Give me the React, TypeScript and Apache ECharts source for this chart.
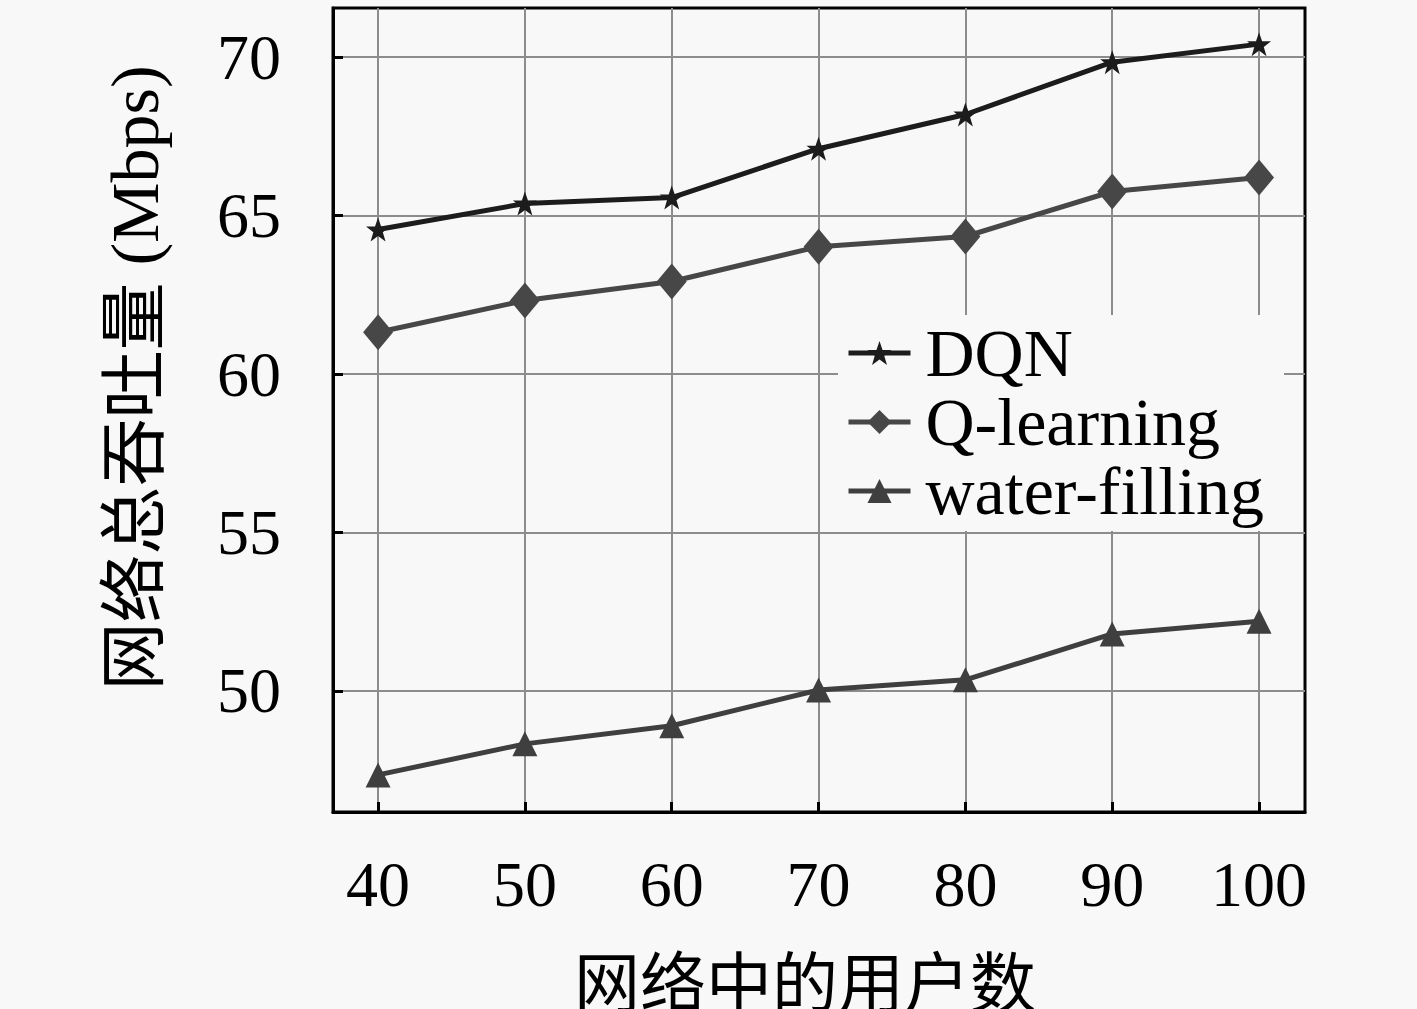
import React, { useEffect, useRef } from "react";
import * as echarts from "echarts";

const users = [40, 50, 60, 70, 80, 90, 100];
const dqn = [64.56, 65.38, 65.57, 67.11, 68.19, 69.84, 70.41];
const qLearning = [61.32, 62.32, 62.92, 64.02, 64.34, 65.76, 66.2];
const waterFilling = [47.35, 48.33, 48.9, 50.03, 50.35, 51.8, 52.2];
const yTicks = [50, 55, 60, 65, 70];
const seriesNames = ["DQN", "Q-learning", "water-filling"];
const yTitle = "网络总吞吐量 (Mbps)";
const xTitle = "网络中的用户数";

const STAR =
  "path://M12,0 L14.9,8.1 L23.4,8.1 L16.5,13.2 L19.1,21.4 L12,16.4 L4.9,21.4 L7.5,13.2 L0.6,8.1 L9.1,8.1 Z";
const FONT = "'Liberation Serif', 'Noto Sans CJK SC', serif";
const BG = "#f8f8f8";

export default function App() {
  const ref = useRef<HTMLDivElement>(null);
  useEffect(() => {
    if (!ref.current) return;
    const chart = echarts.init(ref.current, null, { renderer: "svg" });
    const pair = (arr: number[]) => users.map((u, i) => [u, arr[i]]);
    chart.setOption({
      animation: false,
      backgroundColor: BG,
      grid: {
        left: 333,
        top: 8,
        width: 972,
        height: 804,
        show: true,
        borderColor: "#000",
        borderWidth: 3,
        backgroundColor: BG,
        containLabel: false,
        outerBoundsMode: "none",
      },
      xAxis: {
        type: "value",
        min: 36.93,
        max: 103.13,
        axisLine: { show: true, lineStyle: { color: "#000", width: 3 } },
        axisTick: {
          show: true,
          inside: true,
          length: 10,
          customValues: users,
          lineStyle: { color: "#000", width: 3 },
        },
        axisLabel: {
          customValues: users,
          margin: 40,
          fontSize: 64,
          fontFamily: FONT,
          color: "#000",
        },
        splitLine: { show: true, lineStyle: { color: "#8c8c8c", width: 2 } },
      },
      yAxis: {
        type: "value",
        min: 46.18,
        max: 71.55,
        axisLine: { show: true, lineStyle: { color: "#000", width: 3 } },
        axisTick: {
          show: true,
          inside: true,
          length: 10,
          customValues: yTicks,
          lineStyle: { color: "#000", width: 3 },
        },
        axisLabel: {
          customValues: yTicks,
          margin: 52,
          fontSize: 64,
          fontFamily: FONT,
          color: "#000",
        },
        splitLine: { show: true, lineStyle: { color: "#8c8c8c", width: 2 } },
      },
      legend: {
        orient: "vertical",
        left: 838,
        top: 315,
        itemWidth: 62,
        itemHeight: 30,
        itemGap: 1,
        padding: [4, 20, 6, 8],
        backgroundColor: BG,
        lineStyle: { width: 5 },
        textStyle: {
          fontSize: 68,
          lineHeight: 66,
          fontFamily: FONT,
          color: "#000",
          padding: [0, 0, 0, 10],
        },
        data: seriesNames,
      },
      graphic: [
        {
          type: "text",
          x: 135,
          y: 378,
          rotation: Math.PI / 2,
          style: {
            text: yTitle,
            fontSize: 68,
            fontFamily: FONT,
            fill: "#000",
            align: "center",
            verticalAlign: "middle",
          },
        },
        {
          type: "text",
          x: 805,
          y: 984,
          style: {
            text: xTitle,
            fontSize: 66,
            fontFamily: FONT,
            fill: "#000",
            align: "center",
            verticalAlign: "middle",
          },
        },
      ],
      series: [
        {
          name: seriesNames[0],
          type: "line",
          data: pair(dqn),
          symbol: STAR,
          symbolSize: 24,
          color: "#1c1c1c",
          lineStyle: { width: 5, color: "#1c1c1c" },
          itemStyle: { color: "#1c1c1c" },
        },
        {
          name: seriesNames[1],
          type: "line",
          data: pair(qLearning),
          symbol: "diamond",
          symbolSize: [30, 36],
          color: "#474747",
          lineStyle: { width: 5, color: "#474747" },
          itemStyle: { color: "#474747" },
        },
        {
          name: seriesNames[2],
          type: "line",
          data: pair(waterFilling),
          symbol: "triangle",
          symbolSize: [25, 25],
          color: "#3f3f3f",
          lineStyle: { width: 5, color: "#3f3f3f" },
          itemStyle: { color: "#3f3f3f" },
        },
      ],
    });
    return () => chart.dispose();
  }, []);
  return (
    <div
      ref={ref}
      style={{ position: "fixed", left: 0, top: 0, width: 1417, height: 1009, background: BG }}
    />
  );
}
